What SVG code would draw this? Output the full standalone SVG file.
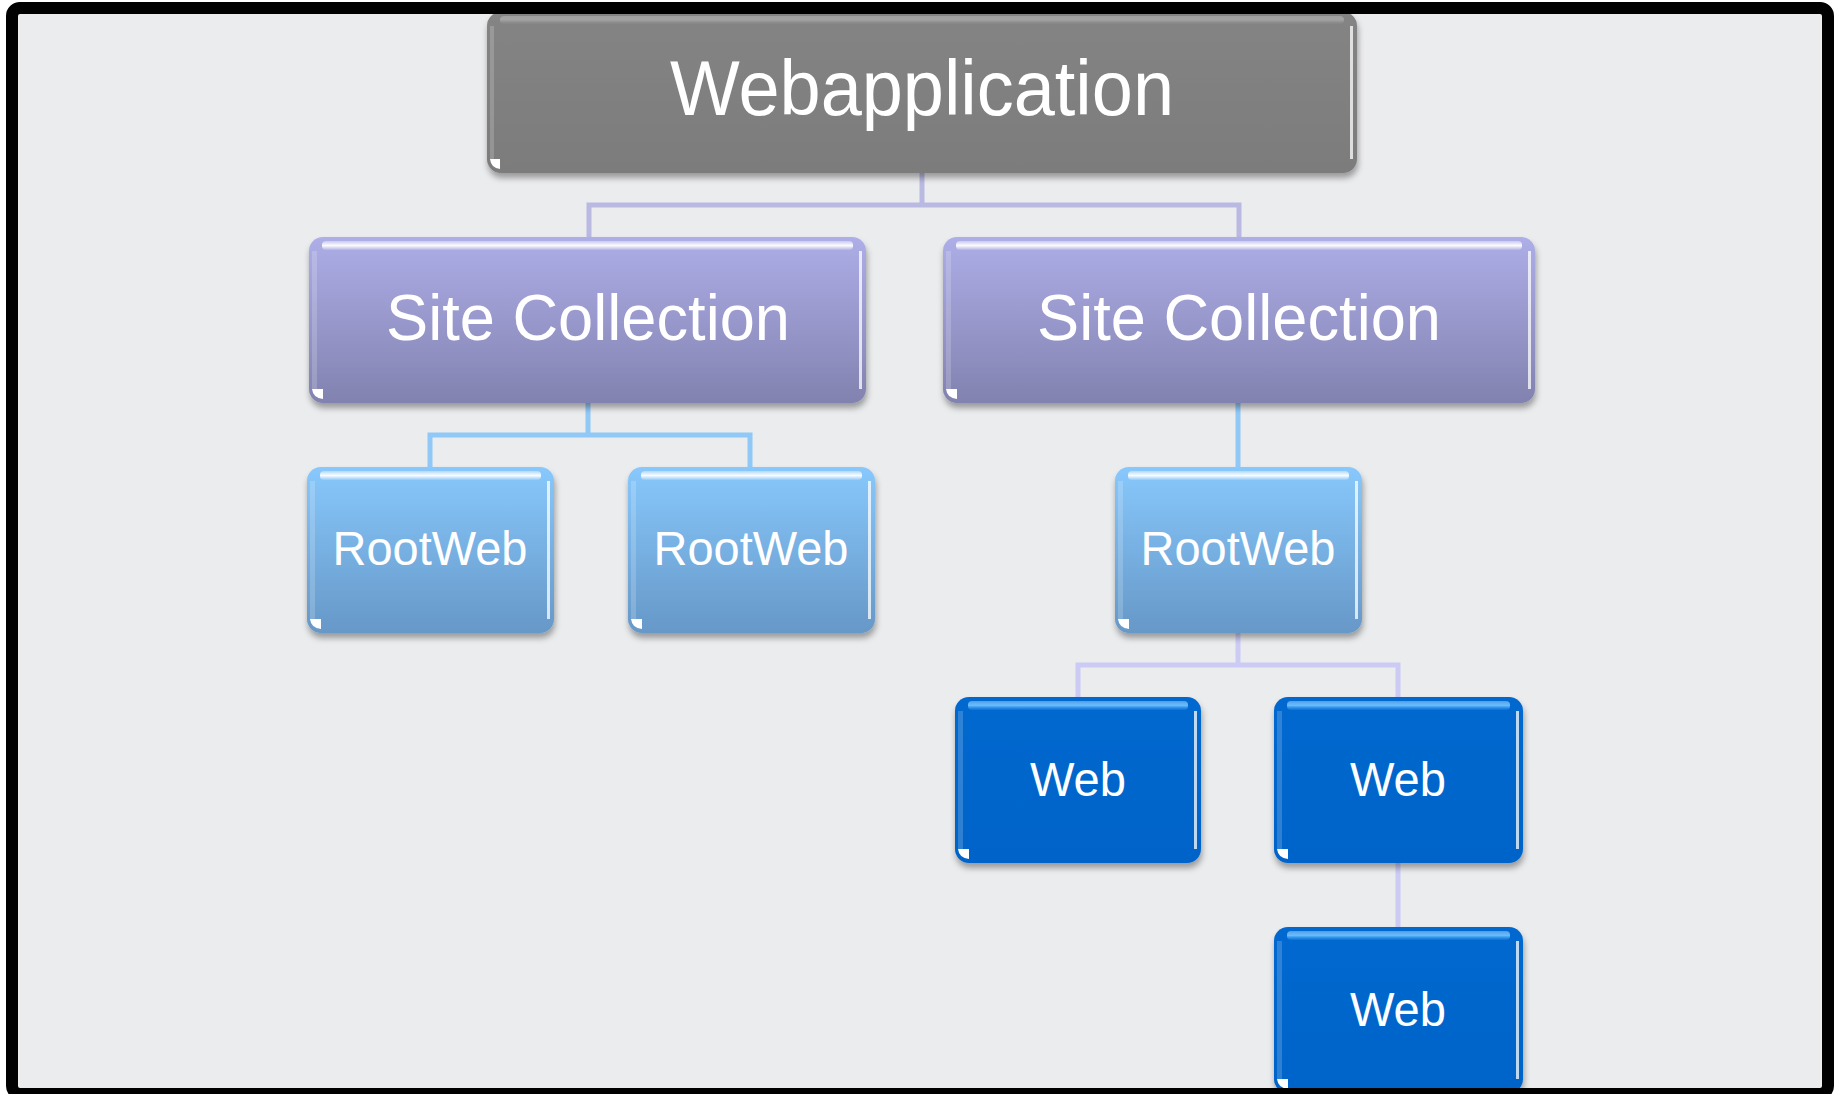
<svg xmlns="http://www.w3.org/2000/svg" width="1837" height="1094" viewBox="0 0 1837 1094">
<defs>
<linearGradient id="gGray" x1="0" y1="0" x2="0" y2="1"><stop offset="0" stop-color="#848484"/><stop offset="1" stop-color="#7c7c7c"/></linearGradient>
<linearGradient id="gSC" x1="0" y1="0" x2="0" y2="1"><stop offset="0" stop-color="#aeaee8"/><stop offset="1" stop-color="#8282b0"/></linearGradient>
<linearGradient id="gRW" x1="0" y1="0" x2="0" y2="1"><stop offset="0" stop-color="#88c8fc"/><stop offset="1" stop-color="#6698c8"/></linearGradient>
<linearGradient id="gWeb" x1="0" y1="0" x2="0" y2="1"><stop offset="0" stop-color="#0068cf"/><stop offset="1" stop-color="#0064c9"/></linearGradient>
<linearGradient id="hlW" x1="0" y1="0" x2="0" y2="1"><stop offset="0" stop-color="#fff" stop-opacity="0.35"/><stop offset="0.5" stop-color="#fff" stop-opacity="0.95"/><stop offset="1" stop-color="#fff" stop-opacity="0.1"/></linearGradient>
<linearGradient id="hlB" x1="0" y1="0" x2="0" y2="1"><stop offset="0" stop-color="#9cd4ff" stop-opacity="0.5"/><stop offset="0.5" stop-color="#6cc0ff" stop-opacity="0.95"/><stop offset="1" stop-color="#3a9cf5" stop-opacity="0.2"/></linearGradient>
<linearGradient id="hlG" x1="0" y1="0" x2="0" y2="1"><stop offset="0" stop-color="#c8c8c8" stop-opacity="0.4"/><stop offset="0.5" stop-color="#b0b0b0" stop-opacity="0.7"/><stop offset="1" stop-color="#999" stop-opacity="0.1"/></linearGradient>
<filter id="sh" x="-5%" y="-10%" width="110%" height="125%"><feDropShadow dx="1" dy="5" stdDeviation="3" flood-color="#000" flood-opacity="0.35"/></filter>
</defs>
<style>
.lbl{font-family:"Liberation Sans",Arial,sans-serif;fill:#fff;text-anchor:middle}
.edgeR{fill:#fff;opacity:0.75}
.edgeL{fill:#fff;opacity:0.18}
.corner{fill:#fff}
.c1{fill:none;stroke:#b9b9e2;stroke-width:5}
.c2{fill:none;stroke:#90c8f8;stroke-width:5}
.c3{fill:none;stroke:#cbcbf6;stroke-width:5}
</style>
<rect x="0" y="0" width="1837" height="1094" fill="#fff"/>
<rect x="12" y="8" width="1816" height="1092" rx="8" fill="#ebecee"/>

<g id="connectors">
<path class="c1" d="M922,173 V205 M589,238 V205 H1239 V238"/>
<path class="c2" d="M588,403 V435 M430,467 V435 H750 V467"/>
<path class="c2" d="M1238,403 V467"/>
<path class="c3" d="M1238,633 V665 M1078,697 V665 H1398 V697"/>
<path class="c3" d="M1398,863 V927"/>
</g>

<g id="webapplication">
<rect x="487" y="12" width="870" height="161" rx="14" fill="url(#gGray)" filter="url(#sh)"/>
<rect x="500" y="16" width="844" height="8" rx="4" fill="url(#hlG)"/>
<rect x="1350" y="26" width="3" height="133" class="edgeR"/>
<rect x="490" y="26" width="4" height="133" class="edgeL"/>
<path class="corner" d="M490,159 H500 V169 Q491,168 490,159 Z"/>
<text class="lbl" x="922" y="115" font-size="77" textLength="504" lengthAdjust="spacingAndGlyphs">Webapplication</text>
</g>

<g id="sitecollection1">
<rect x="309" y="237" width="557" height="166" rx="14" fill="url(#gSC)" filter="url(#sh)"/>
<rect x="322" y="241" width="531" height="9" rx="4" fill="url(#hlW)"/>
<rect x="859" y="251" width="3" height="138" class="edgeR"/>
<rect x="312" y="251" width="5" height="138" class="edgeL"/>
<path class="corner" d="M312,389 H323 V399 Q313,398 312,389 Z"/>
<text class="lbl" x="588" y="340" font-size="64" textLength="404" lengthAdjust="spacingAndGlyphs">Site Collection</text>
</g>

<g id="sitecollection2">
<rect x="943" y="237" width="592" height="166" rx="14" fill="url(#gSC)" filter="url(#sh)"/>
<rect x="956" y="241" width="566" height="9" rx="4" fill="url(#hlW)"/>
<rect x="1528" y="251" width="3" height="138" class="edgeR"/>
<rect x="946" y="251" width="5" height="138" class="edgeL"/>
<path class="corner" d="M946,389 H957 V399 Q947,398 946,389 Z"/>
<text class="lbl" x="1239" y="340" font-size="64" textLength="404" lengthAdjust="spacingAndGlyphs">Site Collection</text>
</g>

<g id="rootweb1">
<rect x="307" y="467" width="247" height="166" rx="14" fill="url(#gRW)" filter="url(#sh)"/>
<rect x="320" y="471" width="221" height="9" rx="4" fill="url(#hlW)"/>
<rect x="547" y="481" width="3" height="138" class="edgeR"/>
<rect x="310" y="481" width="5" height="138" class="edgeL"/>
<path class="corner" d="M310,619 H321 V629 Q311,628 310,619 Z"/>
<text class="lbl" x="430" y="565" font-size="49" textLength="195" lengthAdjust="spacingAndGlyphs">RootWeb</text>
</g>

<g id="rootweb2">
<rect x="628" y="467" width="247" height="166" rx="14" fill="url(#gRW)" filter="url(#sh)"/>
<rect x="641" y="471" width="221" height="9" rx="4" fill="url(#hlW)"/>
<rect x="868" y="481" width="3" height="138" class="edgeR"/>
<rect x="631" y="481" width="5" height="138" class="edgeL"/>
<path class="corner" d="M631,619 H642 V629 Q632,628 631,619 Z"/>
<text class="lbl" x="751" y="565" font-size="49" textLength="195" lengthAdjust="spacingAndGlyphs">RootWeb</text>
</g>

<g id="rootweb3">
<rect x="1115" y="467" width="247" height="166" rx="14" fill="url(#gRW)" filter="url(#sh)"/>
<rect x="1128" y="471" width="221" height="9" rx="4" fill="url(#hlW)"/>
<rect x="1355" y="481" width="3" height="138" class="edgeR"/>
<rect x="1118" y="481" width="5" height="138" class="edgeL"/>
<path class="corner" d="M1118,619 H1129 V629 Q1119,628 1118,619 Z"/>
<text class="lbl" x="1238" y="565" font-size="49" textLength="195" lengthAdjust="spacingAndGlyphs">RootWeb</text>
</g>

<g id="web1">
<rect x="955" y="697" width="246" height="166" rx="14" fill="url(#gWeb)" filter="url(#sh)"/>
<rect x="968" y="701" width="220" height="9" rx="4" fill="url(#hlB)"/>
<rect x="1194" y="711" width="3" height="138" class="edgeR" opacity="0.6"/>
<rect x="958" y="711" width="5" height="138" class="edgeL"/>
<path class="corner" d="M958,849 H969 V859 Q959,858 958,849 Z" fill="#d8f0ff"/>
<text class="lbl" x="1078" y="796" font-size="48" textLength="96" lengthAdjust="spacingAndGlyphs">Web</text>
</g>

<g id="web2">
<rect x="1274" y="697" width="249" height="166" rx="14" fill="url(#gWeb)" filter="url(#sh)"/>
<rect x="1287" y="701" width="223" height="9" rx="4" fill="url(#hlB)"/>
<rect x="1516" y="711" width="3" height="138" class="edgeR" opacity="0.6"/>
<rect x="1277" y="711" width="5" height="138" class="edgeL"/>
<path class="corner" d="M1277,849 H1288 V859 Q1278,858 1277,849 Z"/>
<text class="lbl" x="1398" y="796" font-size="48" textLength="96" lengthAdjust="spacingAndGlyphs">Web</text>
</g>

<g id="web3">
<rect x="1274" y="927" width="249" height="166" rx="14" fill="url(#gWeb)" filter="url(#sh)"/>
<rect x="1287" y="931" width="223" height="9" rx="4" fill="url(#hlB)"/>
<rect x="1516" y="941" width="3" height="138" class="edgeR" opacity="0.6"/>
<rect x="1277" y="941" width="5" height="138" class="edgeL"/>
<path class="corner" d="M1277,1079 H1288 V1089 Q1278,1088 1277,1079 Z"/>
<text class="lbl" x="1398" y="1026" font-size="48" textLength="96" lengthAdjust="spacingAndGlyphs">Web</text>
</g>

<rect x="12" y="8" width="1816" height="1086" rx="8" fill="none" stroke="#000" stroke-width="12"/>
</svg>
